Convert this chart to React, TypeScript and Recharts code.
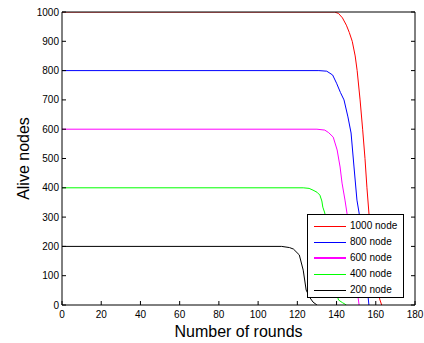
import React from 'react';
import { LineChart, Line, XAxis, YAxis, Legend } from 'recharts';

const rounds1000 = [0, 139, 141, 143, 145, 146.5, 148, 149.5, 150.5, 152, 153.3, 154.5, 155.5, 156.5, 158, 160, 162, 163];
const alive1000 = [1000, 1000, 995, 980, 955, 930, 900, 850, 800, 700, 600, 500, 400, 314, 220, 110, 20, 0];

const rounds800 = [0, 131, 135, 138, 140, 142, 143.8, 145.8, 147.4, 148.9, 150.4, 151.5, 153, 155, 156.5];
const alive800 = [800, 800, 798, 785, 757, 725, 700, 642, 587, 471, 358, 314, 220, 100, 0];

const rounds600 = [0, 130, 134, 136, 138.3, 140.3, 141.8, 142.8, 144.3, 145.3, 147, 149, 150.5, 151.5];
const alive600 = [600, 600, 597, 588, 573, 529, 471, 416, 358, 314, 240, 140, 50, 0];

const rounds400 = [0, 123, 126, 128, 130, 131.5, 132.5, 133, 134, 136, 138, 140, 141, 143, 145];
const alive400 = [400, 400, 398, 392, 385, 375, 355, 334, 314, 220, 120, 40, 17, 8, 0];

const rounds200 = [0, 112, 116, 118, 121, 123, 124.5, 126.5, 128, 130];
const alive200 = [200, 200, 196, 191, 171, 119, 51, 24, 10, 0];

const xTicks = [0, 20, 40, 60, 80, 100, 120, 140, 160, 180];
const yTicks = [0, 100, 200, 300, 400, 500, 600, 700, 800, 900, 1000];

const seriesNames = ['1000 node', '800 node', '600 node', '400 node', '200 node'];
const seriesColors = ['#ff0000', '#0000ff', '#ff00ff', '#00ff00', '#000000'];

const toData = (xs: number[], ys: number[]) => xs.map((x, i) => ({ x, y: ys[i] }));

const series = [
  toData(rounds1000, alive1000),
  toData(rounds800, alive800),
  toData(rounds600, alive600),
  toData(rounds400, alive400),
  toData(rounds200, alive200),
];

const FONT = '"Liberation Sans", Arial, Helvetica, sans-serif';

const LegendBox = () => (
  <div
    style={{
      width: 97,
      height: 84,
      border: '1px solid #000',
      background: '#fff',
      fontFamily: FONT,
      fontSize: 10,
      color: '#000',
      boxSizing: 'border-box',
      paddingTop: 3,
    }}
  >
    {seriesNames.map((n, i) => (
      <div key={n} style={{ display: 'flex', alignItems: 'center', height: 16 }}>
        <div
          style={{
            marginLeft: 6,
            width: 32,
            height: i === 2 ? 2 : 1,
            background: seriesColors[i],
          }}
        />
        <span style={{ marginLeft: 4, lineHeight: '16px' }}>{n}</span>
      </div>
    ))}
  </div>
);

const emptyTick = () => <g />;

export default function App() {
  return (
    <div style={{ position: 'absolute', left: 0, top: 0, width: 424, height: 343, background: '#fff' }}>
      <LineChart width={424} height={343} margin={{ top: 11, right: 8, bottom: 0, left: 0 }}>
        <XAxis
          xAxisId="b"
          dataKey="x"
          type="number"
          domain={[0, 180]}
          ticks={xTicks}
          height={38}
          tickSize={-4}
          tickMargin={10}
          stroke="#000"
          tick={{ fill: '#000', fontSize: 10, fontFamily: FONT }}
          allowDataOverflow
          label={{
            content: (p: any) => {
              const vb = p.viewBox;
              return (
                <text
                  x={vb.x + vb.width / 2}
                  y={337}
                  textAnchor="middle"
                  fontSize={16}
                  fontFamily={FONT}
                  fill="#000"
                >
                  Number of rounds
                </text>
              );
            },
          }}
        />
        <XAxis
          xAxisId="t"
          orientation="top"
          type="number"
          domain={[0, 180]}
          ticks={xTicks}
          height={1}
          tickSize={-4}
          stroke="#000"
          tick={emptyTick}
          allowDataOverflow
        />
        <YAxis
          yAxisId="l"
          type="number"
          domain={[0, 1000]}
          ticks={yTicks}
          width={62}
          tickSize={-4}
          tickMargin={7}
          stroke="#000"
          tick={{ fill: '#000', fontSize: 10, fontFamily: FONT }}
          allowDataOverflow
          label={{
            content: (p: any) => {
              const vb = p.viewBox;
              const cx = 23;
              const cy = vb.y + vb.height / 2;
              return (
                <text
                  x={cx}
                  y={cy}
                  transform={`rotate(-90, ${cx}, ${cy})`}
                  textAnchor="middle"
                  dominantBaseline="central"
                  fontSize={16}
                  fontFamily={FONT}
                  fill="#000"
                >
                  Alive nodes
                </text>
              );
            },
          }}
        />
        <YAxis
          yAxisId="r"
          orientation="right"
          type="number"
          domain={[0, 1000]}
          ticks={yTicks}
          width={1}
          tickSize={-4}
          stroke="#000"
          tick={emptyTick}
          allowDataOverflow
        />
        {series.map((d, i) => (
          <Line
            key={seriesNames[i]}
            xAxisId="b"
            yAxisId="l"
            data={d}
            dataKey="y"
            name={seriesNames[i]}
            type="linear"
            stroke={seriesColors[i]}
            strokeWidth={1}
            dot={false}
            activeDot={false}
            isAnimationActive={false}
          />
        ))}
        <Legend
          layout="vertical"
          align="center"
          verticalAlign="middle"
          content={<LegendBox />}
          wrapperStyle={{ position: 'absolute', left: 307, top: 214, width: 97, height: 84, bottom: 'auto', right: 'auto', margin: 0 }}
        />
      </LineChart>
    </div>
  );
}
